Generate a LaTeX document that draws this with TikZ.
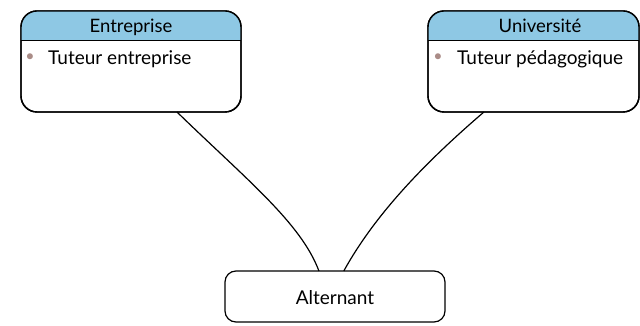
\documentclass[tikz,border=0pt]{standalone}
\usepackage{fontspec}
\setmainfont{Lato}
\usetikzlibrary{calc}
\definecolor{hdr}{RGB}{142,200,228}
\definecolor{bul}{RGB}{170,140,135}
\tikzset{
  x=1pt,y=1pt,
  box/.style={draw=black,line width=1.4pt,rounded corners=16pt,minimum width=220pt,minimum height=101pt,inner sep=0pt,outer sep=0pt},
  altbox/.style={draw=black,line width=1.2pt,rounded corners=11pt,minimum width=220pt,minimum height=51pt,inner sep=0pt,outer sep=0pt},
  title/.style={font=\fontsize{18.5}{20}\selectfont,inner sep=0pt,anchor=base},
  item/.style={font=\fontsize{19}{22}\selectfont,inner sep=0pt,anchor=base west},
  bullet/.style={font=\fontsize{16}{18}\selectfont,text=bul,inner sep=0pt,anchor=center},
  conn/.style={line width=1.2pt}
}
\begin{document}
\begin{tikzpicture}
\useasboundingbox (0,0) rectangle (640,326);
\coordinate (entdiv) at (0,285);
% left box
\node[box] (ent) at (131,264.5) {};
\begin{scope}
\clip[rounded corners=16pt] (ent.south west) rectangle (ent.north east);
\fill[hdr] (ent.west|-entdiv) rectangle (ent.north east);
\end{scope}
\draw[line width=1pt] (ent.west|-entdiv) -- (ent.east|-entdiv);
\node[box] at (ent.center) {};
\node[title] (entT) at (131,293) {Entreprise};
\node[bullet] (entB) at (30,268) {•};
\node[item] (entI) at (48,261) {Tuteur entreprise};
% right box
\node[box,minimum width=211pt] (uni) at (533.5,264.5) {};
\begin{scope}
\clip[rounded corners=16pt] (uni.south west) rectangle (uni.north east);
\fill[hdr] (uni.west|-entdiv) rectangle (uni.north east);
\end{scope}
\draw[line width=1pt] (uni.west|-entdiv) -- (uni.east|-entdiv);
\node[box,minimum width=211pt] at (uni.center) {};
\node[title] (uniT) at (540,293) {Université};
\node[bullet] (uniB) at (438,268) {•};
\node[item] (uniI) at (457,261) {Tuteur pédagogique};
% bottom box
\node[altbox] (alt) at (335,29.5) {};
\node[font=\fontsize{19}{22}\selectfont,inner sep=0pt,anchor=base] (altT) at (335,21) {Alternant};
% connectors
\coordinate (s1) at ($(ent.south west)!0.709!(ent.south east)$);
\coordinate (e1) at ($(alt.north west)!0.427!(alt.north east)$);
\coordinate (s2) at ($(uni.south west)!0.265!(uni.south east)$);
\coordinate (e2) at ($(alt.north west)!0.54!(alt.north east)$);
\draw[conn] (s1) .. controls ($(s1)+(70,-68)$) and ($(e1)+(-18,48)$) .. (e1);
\draw[conn] (s2) .. controls ($(s2)+(-57,-49)$) and ($(e2)+(32,58)$) .. (e2);
\end{tikzpicture}
\end{document}
